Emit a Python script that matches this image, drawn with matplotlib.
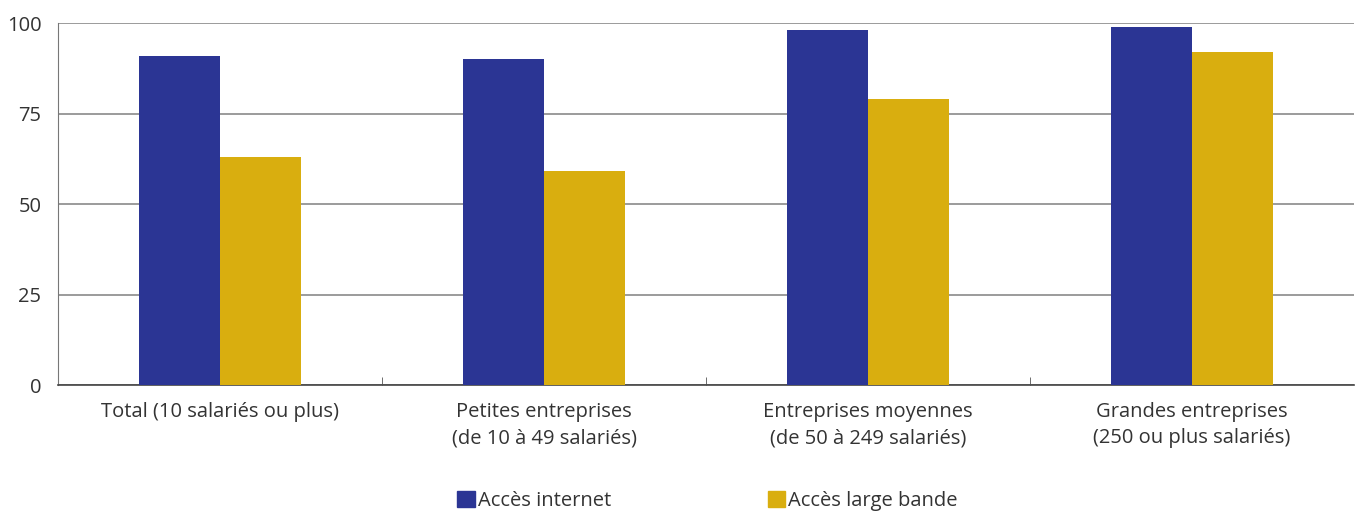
import numpy as np
import matplotlib.pyplot as plt
from matplotlib.patches import Patch

plt.rcParams['font.family'] = ['Open Sans', 'DejaVu Sans']

categories = ['Total (10 salariés ou plus)',
              'Petites entreprises\n(de 10 à 49 salariés)',
              'Entreprises moyennes\n(de 50 à 249 salariés)',
              'Grandes entreprises\n(250 ou plus salariés)']
internet = [91, 90, 98, 99]
large_bande = [63, 59, 79, 92]
series_names = ['Accès internet', 'Accès large bande']
colors = ['#2b3594', '#d9ae0f']

fig = plt.figure(figsize=(13.58, 5.11), dpi=100)
ax = fig.add_axes([58 / 1358, 1 - 385 / 511, 1296 / 1358, 362 / 511])

x = np.arange(len(categories))
w = 0.25
ax.bar(x - w / 2, internet, w, color=colors[0], zorder=3)
ax.bar(x + w / 2, large_bande, w, color=colors[1], zorder=3)

ax.set_xlim(-0.5, len(categories) - 0.5)
ax.set_ylim(0, 100)
ax.set_yticks([0, 25, 50, 75, 100])
ax.yaxis.grid(True, color='#8a8a8a', linewidth=1.2, zorder=0)
ax.tick_params(axis='y', length=0, labelsize=14.5, colors='#333333', pad=12)

ax.set_xticks(x)
ax.set_xticklabels(categories, fontsize=14.5, color='#333333', linespacing=1.45)
ax.tick_params(axis='x', length=0, pad=12)
ax.set_xticks(np.arange(0.5, len(categories) - 0.5), minor=True)
ax.tick_params(axis='x', which='minor', direction='in', length=6, color='#555555')

for s in ['top', 'right']:
    ax.spines[s].set_visible(False)
ax.spines['left'].set_color('#777777')
ax.spines['bottom'].set_color('#444444')
ax.spines['bottom'].set_linewidth(1.2)

handles = [Patch(color=c) for c in colors]
fig.legend(handles, series_names, loc='lower center', bbox_to_anchor=(0.521, -0.036),
           ncol=2, frameon=False, fontsize=14.5, handlelength=0.85, handleheight=0.85,
           handletextpad=0.15, columnspacing=7.8, labelcolor='#333333')

fig.savefig('out.png', dpi=100)
